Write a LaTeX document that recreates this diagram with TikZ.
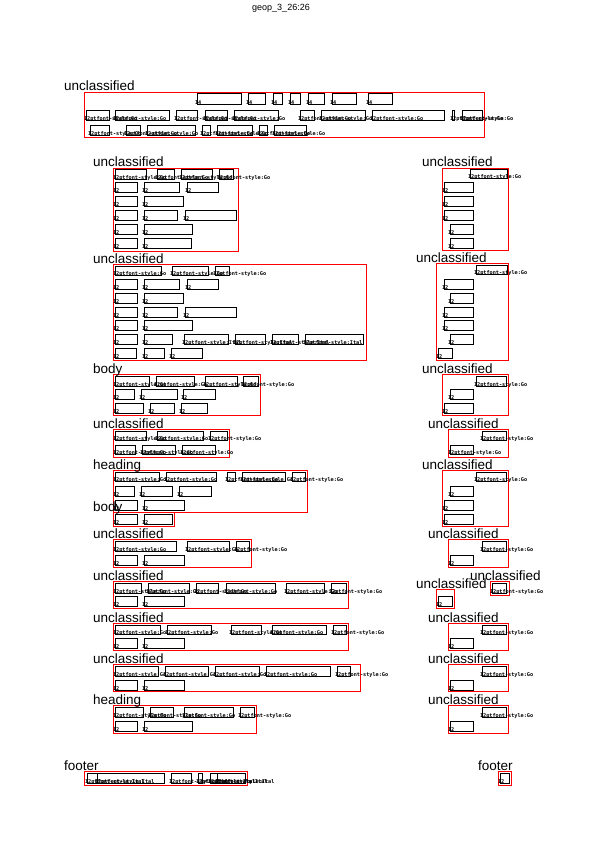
\documentclass[tikz,border=0pt]{standalone}
\usepackage{fontspec}
\setmainfont{Liberation Sans}
\newfontfamily\tinyf{DejaVu Sans Mono}
\newcommand\lgo{12ptfont-style:Go}
\newcommand\lit{12ptfont-style:Ital}
\tikzset{
  wbox/.style={draw=black,line width=0.7pt},
  regbox/.style={draw=red,line width=0.9pt},
  lab/.style={anchor=base west,inner sep=0pt,font=\tinyf\bfseries\fontsize{5.2}{6}\selectfont},
  rlab/.style={anchor=base west,inner sep=0pt,font=\fontsize{13.5}{14}\selectfont},
}
\newcommand\Row[3]{\foreach \a/\b/\t in {#3} {\draw[wbox] (\a,#1) rectangle (\b,#2); \node[lab] at (\a-2.2,#2+0.8) {\t};}}
\newcommand\Reg[5]{\draw[regbox] (#1,#2) rectangle (#3,#4); \node[rlab] at (#1-20,#2-1) {#5};}
\begin{document}
\begin{tikzpicture}[x=1pt,y=-1pt]
\useasboundingbox[fill=white] (0,0) rectangle (595,842);
\node[anchor=base,inner sep=0pt,font=\fontsize{9}{10}\selectfont] (title) at (281,11) {geop\_3\_26:26};
% block 1
\Reg{84}{92}{484}{137}{unclassified}
\Row{93}{104}{197/241/14,248/265/14,273/282/14,290/300/14,308/324/14,332/356/14,368/392/14}
\Row{110}{120}{86/109/\lgo,115/169/\lgo,176/197/\lgo,205/227/\lgo,234/278/\lgo,300/314/\lgo,321/365/\lgo,372/444/\lgo,452/454/\lgo,462/482/\lgo}
\Row{125}{135}{90/109/\lgo,126/140/\lgo,147/195/\lgo,202/210/\lgo,217/252/\lgo,259/267/\lgo,274/306/\lgo}
% block 2L
\Reg{113}{168}{238}{251}{unclassified}
\Row{169}{179}{115/146/\lgo,157/174/\lgo,181/212/\lgo,219/233/\lgo}
\Row{182}{192}{115/137/12,144/179/12,187/218/12}
\Row{196}{206}{115/137/12,144/183/12}
\Row{210}{220}{115/137/12,144/177/12,185/236/12}
\Row{224}{234}{115/137/12,144/192/12}
\Row{238}{248}{115/137/12,144/191/12}
% block 3L
\Reg{113}{264}{366}{360}{unclassified}
\Row{266}{275}{115/161/\lgo,172/208/\lgo,215/229/\lgo}
\Row{279}{289}{115/137/12,144/179/12,187/218/12}
\Row{293}{303}{115/137/12,144/183/12}
\Row{307}{317}{115/137/12,144/177/12,185/236/12}
\Row{320}{330}{115/137/12,144/192/12}
\Row{334}{344}{115/137/12,144/172/12,184/228/\lit,235/265/\lit,272/298/\lit,305/363/\lit}
\Row{348}{358}{115/136/12,144/164/12,171/202/12}
% block 2R
\Reg{442}{168}{508}{250}{unclassified}
\Row{169}{178}{470/507/\lgo}
\Row{182}{192}{444/473/12}
\Row{196}{206}{444/473/12}
\Row{210}{220}{444/473/12}
\Row{224}{234}{450/473/12}
\Row{238}{248}{450/473/12}
% block 3R
\Reg{436}{263}{508}{360}{unclassified}
\Row{265}{274}{476/507/\lgo}
\Row{279}{289}{444/473/12}
\Row{293}{303}{450/473/12}
\Row{307}{317}{444/473/12}
\Row{320}{330}{444/473/12}
\Row{334}{344}{450/473/12}
\Row{348}{358}{438/452/12}
% body
\Reg{113}{374}{260}{415}{body}
\Row{376}{386}{115/149/\lgo,156/194/\lgo,205/237/\lgo,243/258/\lgo}
\Row{389}{399}{115/134/12,141/177/12,183/215/12}
\Row{403}{413}{115/143/12,150/174/12,181/207/12}
\Reg{113}{429}{229}{457}{unclassified}
\Row{431}{440}{115/146/\lgo,157/203/\lgo,210/227/\lgo}
\Row{445}{454}{115/135/\lgo,142/175/\lgo,182/215/\lgo}
\Reg{113}{470}{307}{512}{heading}
\Row{472}{481}{115/159/\lgo,166/216/\lgo,227/235/\lgo,242/285/\lgo,292/305/\lgo}
\Row{486}{496}{115/134/12,141/172/12,179/211/12}
\Row{500}{510}{115/137/12,144/184/12}
\Reg{113}{512}{174}{526}{body}
\Row{514}{524}{115/137/12,144/172/12}
% right middle
\Reg{442}{374}{508}{415}{unclassified}
\Row{376}{386}{476/506/\lgo}
\Row{389}{399}{450/473/12}
\Row{403}{413}{444/473/12}
\Reg{448}{429}{508}{457}{unclassified}
\Row{431}{440}{482/506/\lgo}
\Row{445}{454}{450/473/\lgo}
\Reg{442}{470}{508}{526}{unclassified}
\Row{472}{481}{476/506/\lgo}
\Row{486}{496}{450/473/12}
\Row{500}{510}{444/473/12}
\Row{514}{524}{444/473/12}
% lower left
\Reg{113}{539}{251}{567}{unclassified}
\Row{541}{551}{115/176/\lgo,187/229/\lgo,236/249/\lgo}
\Row{555}{565}{115/137/12,144/184/12}
\Reg{113}{581}{348}{608}{unclassified}
\Row{583}{593}{115/141/\lgo,148/189/\lgo,196/218/\lgo,226/275/\lgo,286/324/\lgo,331/346/\lgo}
\Row{596}{606}{115/137/12,144/184/12}
\Reg{113}{623}{348}{650}{unclassified}
\Row{625}{634}{115/160/\lgo,167/211/\lgo,231/261/\lgo,272/326/\lgo,333/346/\lgo}
\Row{638}{648}{115/137/12,144/184/12}
\Reg{113}{664}{360}{691}{unclassified}
\Row{666}{676}{115/158/\lgo,165/208/\lgo,215/259/\lgo,266/330/\lgo,337/350/\lgo}
\Row{680}{690}{115/137/12,144/184/12}
\Reg{113}{705}{256}{733}{heading}
\Row{707}{717}{115/143/\lgo,150/173/\lgo,184/233/\lgo,240/254/\lgo}
\Row{721}{731}{115/137/12,144/192/12}
% lower right
\Reg{448}{539}{508}{567}{unclassified}
\Row{541}{551}{482/506/\lgo}
\Row{555}{565}{450/473/12}
\Reg{490}{581}{509}{595}{unclassified}
\Row{583}{593}{492/506/\lgo}
\Reg{436}{589}{454}{608}{unclassified}
\Row{596}{606}{438/452/12}
\Reg{448}{623}{508}{650}{unclassified}
\Row{625}{634}{482/506/\lgo}
\Row{638}{648}{450/473/12}
\Reg{448}{664}{508}{691}{unclassified}
\Row{666}{676}{482/506/\lgo}
\Row{680}{690}{450/473/12}
\Reg{448}{705}{508}{733}{unclassified}
\Row{707}{717}{482/506/\lgo}
\Row{721}{731}{450/473/12}
% footers
\Reg{84}{771}{247}{785}{footer}
\Row{773}{783}{87/97/\lit,97/164/\lit,171/191/\lit,198/202/\lit,210/217/\lit,217/245/\lit}
\Reg{498}{771}{511}{785}{footer}
\Row{773}{783}{500/509/12}
\end{tikzpicture}
\end{document}
